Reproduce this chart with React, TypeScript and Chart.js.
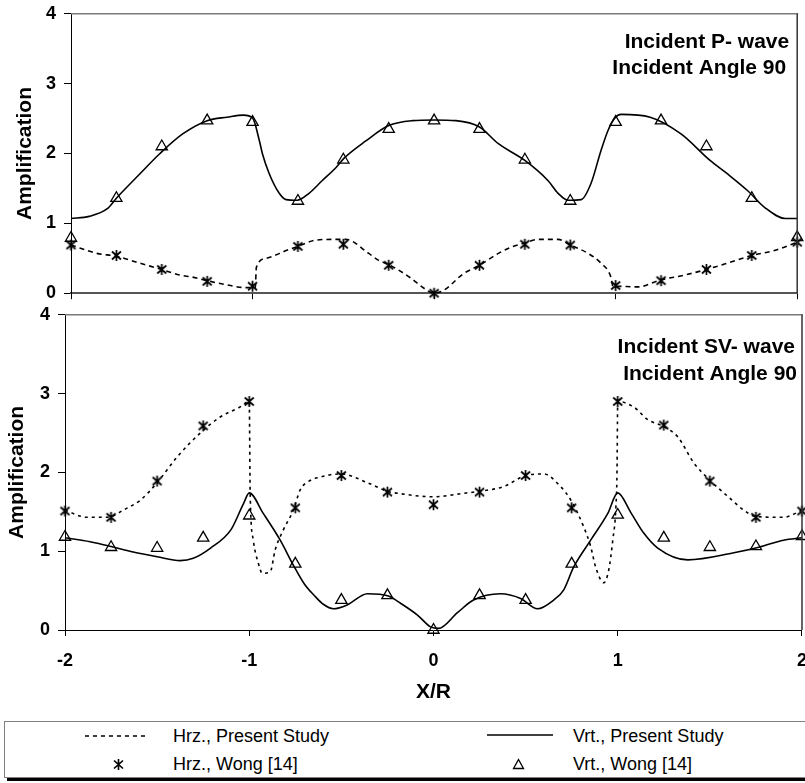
import React, { useEffect, useRef } from "react";
import { Chart, registerables } from "chart.js";

Chart.register(...registerables);

// ---------- DATA ----------
const wongX = [-2, -1.75, -1.5, -1.25, -1, -0.75, -0.5, -0.25, 0, 0.25, 0.5, 0.75, 1, 1.25, 1.5, 1.75, 2];
const xTickValues = [-2, -1, 0, 1, 2];
const yTickValues = [0, 1, 2, 3, 4];

const legendLabels = ["Hrz., Present Study", "Vrt., Present Study", "Hrz., Wong [14]", "Vrt., Wong [14]"];

// Incident P-wave
const pTitle = ["Incident P- wave", "Incident Angle 90"];
const pWongHrz = [0.69, 0.54, 0.34, 0.17, 0.1, 0.67, 0.7, 0.4, 0.0, 0.4, 0.7, 0.69, 0.11, 0.18, 0.34, 0.54, 0.73];
const pWongVrt = [0.79, 1.36, 2.1, 2.47, 2.45, 1.32, 1.91, 2.35, 2.47, 2.35, 1.91, 1.32, 2.45, 2.47, 2.1, 1.36, 0.8];

const pHrzX = [-2, -1.857, -1.75, -1.621, -1.5, -1.402, -1.331, -1.25, -1.144, -1.034, -0.985, -0.979, -0.925, -0.815, -0.75, -0.65, -0.562, -0.486, -0.36, -0.305, -0.25, -0.13, -0.05, 0,
  0.052, 0.162, 0.25, 0.354, 0.425, 0.5, 0.573, 0.683, 0.75, 0.848, 0.919, 0.974, 0.985, 1.0, 1.122, 1.248, 1.38, 1.5, 1.616, 1.75, 1.874, 2];
const pHrzY = [0.69, 0.57, 0.53, 0.43, 0.34, 0.26, 0.23, 0.18, 0.12, 0.08, 0.08, 0.37, 0.5, 0.61, 0.67, 0.76, 0.77, 0.77, 0.57, 0.47, 0.41, 0.22, 0.06, 0.0,
  0.04, 0.28, 0.4, 0.57, 0.66, 0.72, 0.77, 0.77, 0.69, 0.57, 0.43, 0.23, 0.1, 0.1, 0.09, 0.19, 0.26, 0.34, 0.43, 0.54, 0.61, 0.73];

const pVrtX = [-2, -1.9, -1.8, -1.75, -1.62, -1.51, -1.385, -1.25, -1.14, -1.05, -1.0, -0.963, -0.946, -0.908, -0.853, -0.815, -0.755, -0.689, -0.617, -0.54, -0.497, -0.376, -0.25, -0.12, 0,
  0.12, 0.25, 0.354, 0.5, 0.628, 0.683, 0.738, 0.81, 0.864, 0.919, 0.958, 0.996, 1.03, 1.19, 1.36, 1.52, 1.62, 1.726, 1.82, 1.934, 2];
const pVrtY = [1.07, 1.1, 1.21, 1.36, 1.71, 2.0, 2.28, 2.47, 2.52, 2.55, 2.51, 2.19, 2.0, 1.71, 1.43, 1.34, 1.33, 1.43, 1.61, 1.8, 1.93, 2.18, 2.4, 2.47, 2.48,
  2.47, 2.38, 2.14, 1.9, 1.61, 1.43, 1.33, 1.34, 1.57, 2.04, 2.33, 2.51, 2.56, 2.52, 2.28, 1.9, 1.7, 1.47, 1.23, 1.07, 1.07];

// Incident SV-wave
const svTitle = ["Incident SV- wave", "Incident Angle 90"];
const svWongHrz = [1.51, 1.43, 1.89, 2.59, 2.9, 1.55, 1.96, 1.75, 1.59, 1.75, 1.96, 1.55, 2.9, 2.6, 1.89, 1.43, 1.51];
const svWongVrt = [1.18, 1.05, 1.04, 1.17, 1.45, 0.84, 0.38, 0.44, 0.0, 0.44, 0.38, 0.84, 1.46, 1.17, 1.05, 1.06, 1.19];

const svHrzX = [-2, -1.88, -1.81, -1.75, -1.685, -1.59, -1.5, -1.39, -1.266, -1.16, -1.05, -1.0, -0.995, -0.978, -0.951, -0.929, -0.886, -0.859, -0.815, -0.761, -0.723, -0.668, -0.614, -0.56, -0.5, -0.359, -0.25, -0.18, 0,
  0.147, 0.25, 0.38, 0.5, 0.598, 0.69, 0.745, 0.815, 0.853, 0.88, 0.924, 0.951, 0.973, 0.99, 0.996, 1.0, 1.087, 1.163, 1.25, 1.326, 1.413, 1.5, 1.6, 1.685, 1.75, 1.9, 2];
const svHrzY = [1.52, 1.43, 1.43, 1.44, 1.52, 1.65, 1.87, 2.2, 2.5, 2.7, 2.83, 2.9, 1.74, 1.14, 0.85, 0.72, 0.74, 1.02, 1.27, 1.52, 1.78, 1.9, 1.94, 1.97, 1.98, 1.87, 1.76, 1.73, 1.69,
  1.73, 1.76, 1.82, 1.96, 1.98, 1.82, 1.65, 1.31, 1.06, 0.8, 0.6, 0.76, 1.14, 1.56, 2.0, 2.9, 2.83, 2.67, 2.58, 2.45, 2.12, 1.9, 1.69, 1.52, 1.44, 1.43, 1.52];

const svVrtX = [-2, -1.864, -1.75, -1.63, -1.5, -1.375, -1.304, -1.21, -1.1, -1.03, -1.0, -0.924, -0.832, -0.76, -0.7, -0.64, -0.6, -0.543, -0.467, -0.359, -0.245, -0.179, -0.087, -0.016,
  0.027, 0.13, 0.217, 0.364, 0.473, 0.565, 0.652, 0.707, 0.761, 0.853, 0.946, 1.0, 1.071, 1.141, 1.217, 1.38, 1.63, 1.766, 1.9, 2];
const svVrtY = [1.17, 1.12, 1.06, 0.99, 0.93, 0.88, 0.91, 1.04, 1.27, 1.61, 1.74, 1.48, 1.14, 0.82, 0.58, 0.42, 0.33, 0.27, 0.32, 0.46, 0.43, 0.34, 0.19, 0.04,
  0.02, 0.22, 0.38, 0.46, 0.4, 0.27, 0.38, 0.51, 0.8, 1.14, 1.48, 1.74, 1.49, 1.23, 1.04, 0.89, 0.98, 1.05, 1.14, 1.17];

// ---------- HELPERS ----------
const FONT = '"Liberation Sans", Arial, sans-serif';

function pts(xs: number[], ys: number[]) {
  return xs.map((x, i) => ({ x, y: ys[i] }));
}

function makeStar(): HTMLCanvasElement {
  const c = document.createElement("canvas");
  c.width = 13;
  c.height = 13;
  const g = c.getContext("2d")!;
  g.strokeStyle = "#000";
  g.lineWidth = 1.7;
  g.beginPath();
  g.moveTo(2, 2.5); g.lineTo(11, 10.5);
  g.moveTo(11, 2.5); g.lineTo(2, 10.5);
  g.moveTo(6.5, 1); g.lineTo(6.5, 12);
  g.stroke();
  return c;
}

const framePlugin = {
  id: "frame",
  afterDraw(chart: any, _args: any, opts: any) {
    const { ctx, chartArea } = chart;
    const { left, right, top, bottom } = chartArea;
    ctx.save();
    ctx.lineWidth = 1.5;
    ctx.strokeStyle = opts.topColor;
    ctx.beginPath();
    ctx.moveTo(left, top);
    ctx.lineTo(right + 1, top);
    ctx.stroke();
    ctx.strokeStyle = opts.rightColor;
    ctx.beginPath();
    ctx.moveTo(right, top);
    ctx.lineTo(right, bottom);
    ctx.stroke();
    ctx.fillStyle = "#000";
    ctx.font = `bold 21px ${FONT}`;
    ctx.textAlign = "right";
    ctx.textBaseline = "alphabetic";
    (opts.lines as string[]).forEach((t, i) => {
      ctx.fillText(t, right + opts.dx[i], top + opts.dy[i]);
    });
    ctx.restore();
  },
};

interface PanelCfg {
  hrzX: number[]; hrzY: number[];
  vrtX: number[]; vrtY: number[];
  wongHrz: number[]; wongVrt: number[];
  lines: string[];
  dx: number[]; dy: number[];
  showX: boolean;
  padTop: number; padRight: number;
  yWidth: number; xHeight: number;
  yTitlePad: number;
  xBorderColor: string; xBorderWidth: number;
  dash: number[];
}

function buildChart(canvas: HTMLCanvasElement, cfg: PanelCfg, star: HTMLCanvasElement) {
  const tickFont = { family: FONT, size: 18, weight: "bold" as const };
  const titleFont = { family: FONT, size: 21, weight: "bold" as const };
  return new Chart(canvas, {
    type: "scatter",
    data: {
      datasets: [
        {
          label: legendLabels[0],
          data: pts(cfg.hrzX, cfg.hrzY),
          showLine: true,
          borderColor: "#000",
          borderWidth: 1.6,
          borderDash: cfg.dash,
          pointRadius: 0,
          cubicInterpolationMode: "monotone",
          fill: false,
          clip: false as any,
        },
        {
          label: legendLabels[1],
          data: pts(cfg.vrtX, cfg.vrtY),
          showLine: true,
          borderColor: "#000",
          borderWidth: 1.6,
          pointRadius: 0,
          cubicInterpolationMode: "monotone",
          fill: false,
          clip: false as any,
        },
        {
          label: legendLabels[2],
          data: pts(wongX, cfg.wongHrz),
          showLine: false,
          pointStyle: star as any,
          pointRadius: 6,
          borderColor: "#000",
          clip: false as any,
        },
        {
          label: legendLabels[3],
          data: pts(wongX, cfg.wongVrt),
          showLine: false,
          pointStyle: "triangle",
          pointRadius: 6.5,
          borderColor: "#000",
          borderWidth: 1.3,
          backgroundColor: "rgba(255,255,255,0)",
          clip: false as any,
        },
      ],
    },
    options: {
      animation: false,
      responsive: false,
      devicePixelRatio: 1,
      layout: { padding: { top: cfg.padTop, right: cfg.padRight, left: 0, bottom: 0 } },
      plugins: {
        legend: { display: false },
        tooltip: { enabled: false },
        frame: {
          topColor: "#7a7a7a",
          rightColor: "#333",
          lines: cfg.lines,
          dx: cfg.dx,
          dy: cfg.dy,
        },
      } as any,
      scales: {
        x: {
          type: "linear",
          min: xTickValues[0],
          max: xTickValues[xTickValues.length - 1],
          afterBuildTicks: (s: any) => {
            s.ticks = xTickValues.map((v) => ({ value: v }));
          },
          ticks: {
            display: cfg.showX,
            font: tickFont,
            color: "#000",
            padding: 14,
            maxRotation: 0,
            autoSkip: false,
          },
          grid: {
            display: true,
            drawOnChartArea: false,
            drawTicks: true,
            tickLength: 6,
            color: "#000",
            lineWidth: 1,
          },
          border: { display: true, color: cfg.xBorderColor, width: cfg.xBorderWidth },
          title: {
            display: cfg.showX,
            text: "X/R",
            font: titleFont,
            color: "#000",
            padding: { top: 0, bottom: 0 },
          },
          afterFit: (s: any) => {
            s.height = cfg.xHeight;
          },
        },
        y: {
          type: "linear",
          min: yTickValues[0],
          max: yTickValues[yTickValues.length - 1],
          afterBuildTicks: (s: any) => {
            s.ticks = yTickValues.map((v) => ({ value: v }));
          },
          ticks: { font: tickFont, color: "#000", padding: 8 },
          grid: {
            display: true,
            drawOnChartArea: false,
            drawTicks: true,
            tickLength: 7,
            color: "#000",
            lineWidth: 1,
          },
          border: { display: true, color: "#000", width: 1 },
          title: {
            display: true,
            text: "Amplification",
            font: titleFont,
            color: "#000",
            padding: { top: cfg.yTitlePad, bottom: 0 },
          },
          afterFit: (s: any) => {
            s.width = cfg.yWidth;
          },
        },
      },
    },
    plugins: [framePlugin],
  } as any);
}

// ---------- LEGEND ----------
function Legend() {
  const text: React.CSSProperties = {
    position: "absolute",
    fontFamily: FONT,
    fontSize: 18,
    lineHeight: "20px",
    color: "#000",
    whiteSpace: "nowrap",
  };
  return (
    <div
      style={{
        position: "absolute",
        left: 4,
        top: 721,
        width: 830,
        height: 55,
        border: "1px solid #808080",
        boxShadow: "3px 3px 0 #000",
        background: "#fff",
      }}
    >
      <svg style={{ position: "absolute", left: 80, top: 8 }} width={64} height={12}>
        <line x1={0} y1={6} x2={64} y2={6} stroke="#000" strokeWidth={1.6} strokeDasharray="4 4" />
      </svg>
      <div style={{ ...text, left: 168, top: 4 }}>{legendLabels[0]}</div>
      <svg style={{ position: "absolute", left: 482, top: 7 }} width={66} height={12}>
        <line x1={0} y1={6} x2={66} y2={6} stroke="#000" strokeWidth={1.6} />
      </svg>
      <div style={{ ...text, left: 568, top: 4 }}>{legendLabels[1]}</div>
      <svg style={{ position: "absolute", left: 107, top: 36 }} width={13} height={13}>
        <path d="M2 2.5 L11 10.5 M11 2.5 L2 10.5 M6.5 1 L6.5 12" stroke="#000" strokeWidth={1.6} fill="none" />
      </svg>
      <div style={{ ...text, left: 168, top: 32 }}>{legendLabels[2]}</div>
      <svg style={{ position: "absolute", left: 507, top: 36 }} width={13} height={12}>
        <path d="M6.5 1.5 L11.5 10.5 L1.5 10.5 Z" stroke="#000" strokeWidth={1.3} fill="none" />
      </svg>
      <div style={{ ...text, left: 568, top: 32 }}>{legendLabels[3]}</div>
    </div>
  );
}

export default function App() {
  const topRef = useRef<HTMLCanvasElement | null>(null);
  const botRef = useRef<HTMLCanvasElement | null>(null);

  useEffect(() => {
    const star = makeStar();
    const c1 = buildChart(
      topRef.current!,
      {
        hrzX: pHrzX, hrzY: pHrzY, vrtX: pVrtX, vrtY: pVrtY,
        wongHrz: pWongHrz, wongVrt: pWongVrt,
        lines: pTitle, dx: [-8, -11], dy: [34, 60],
        showX: false, padTop: 8, padRight: 5,
        yWidth: 71, xHeight: 7, yTitlePad: 13,
        xBorderColor: "#555", xBorderWidth: 2,
        dash: [5, 4],
      },
      star
    );
    const c2 = buildChart(
      botRef.current!,
      {
        hrzX: svHrzX, hrzY: svHrzY, vrtX: svVrtX, vrtY: svVrtY,
        wongHrz: svWongHrz, wongVrt: svWongVrt,
        lines: svTitle, dx: [-7, -5], dy: [38, 65],
        showX: true, padTop: 8, padRight: 0,
        yWidth: 65, xHeight: 75, yTitlePad: 5,
        xBorderColor: "#000", xBorderWidth: 1,
        dash: [3, 4],
      },
      star
    );
    return () => {
      c1.destroy();
      c2.destroy();
    };
  }, []);

  return (
    <div
      style={{
        position: "absolute",
        left: 0,
        top: 0,
        width: 805,
        height: 783,
        overflow: "hidden",
        background: "#fff",
      }}
    >
      <canvas ref={topRef} width={805} height={317} style={{ position: "absolute", left: 0, top: -5, width: 805, height: 317 }} />
      <canvas ref={botRef} width={821} height={409} style={{ position: "absolute", left: 0, top: 296, width: 821, height: 409 }} />
      <Legend />
    </div>
  );
}
